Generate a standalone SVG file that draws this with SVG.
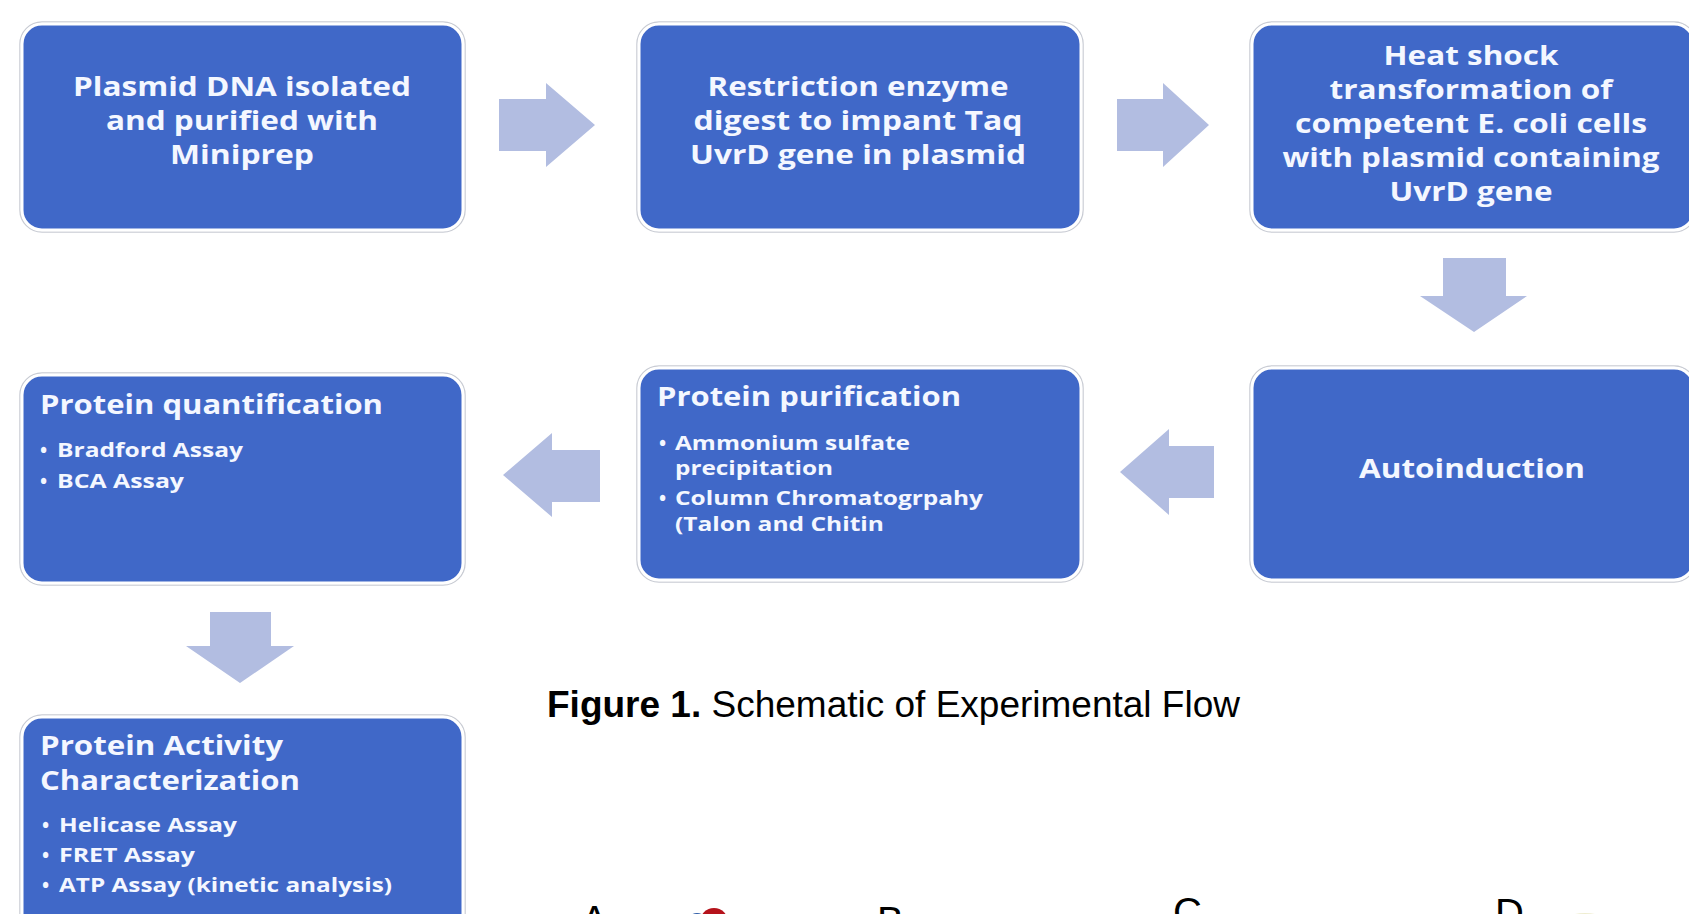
<svg xmlns="http://www.w3.org/2000/svg" width="1689" height="914" viewBox="0 0 1689 914">
<style>
.box{fill:#4068c8;stroke:#ffffff;stroke-width:3}
.halo{fill:none;stroke:#c9ccd4;stroke-width:1.5}
.arr{fill:#b2bde1}
.t{font-family:"Open Sans","Noto Sans","DejaVu Sans",sans-serif;font-weight:bold;fill:#f4f7ff}
.c{text-anchor:middle;font-size:27px}
.h{font-size:26px}
.b{font-size:19px}
.cap{font-family:"Liberation Sans",Arial,sans-serif;font-size:37px;fill:#000}
.lab{font-family:"Liberation Sans",Arial,sans-serif;font-size:40px;fill:#000}
</style>
<rect width="1689" height="914" fill="#ffffff"/>

<g id="connectors">
  <path class="arr" d="M499,99 H546 V83 L595,125 L546,167 V151 H499 Z"/>
  <path class="arr" d="M1117,99 H1163 V83 L1209,125 L1163,167 V151 H1117 Z"/>
  <path class="arr" d="M1443,258 H1506 V296 H1527 L1474,332 L1420,296 H1443 Z"/>
  <path class="arr" d="M600,450 H552 V433 L503,475 L552,517 V502 H600 Z"/>
  <path class="arr" d="M1214,446 H1169 V429 L1120,472 L1169,515 V498 H1214 Z"/>
  <path class="arr" d="M210,612 H271 V646 H294 L240,683 L186,646 H210 Z"/>
</g>

<g id="node1">
  <rect class="halo" x="20" y="22" width="445" height="210" rx="22"/>
  <rect class="box" x="22" y="24" width="441" height="206" rx="20"/>
  <text class="t c" x="242" y="96" textLength="338" lengthAdjust="spacingAndGlyphs">Plasmid DNA isolated</text>
  <text class="t c" x="242" y="130" textLength="272" lengthAdjust="spacingAndGlyphs">and purified with</text>
  <text class="t c" x="242" y="164" textLength="144" lengthAdjust="spacingAndGlyphs">Miniprep</text>
</g>

<g id="node2">
  <rect class="halo" x="637" y="22" width="446" height="210" rx="22"/>
  <rect class="box" x="639" y="24" width="442" height="206" rx="20"/>
  <text class="t c" x="858" y="96" textLength="301" lengthAdjust="spacingAndGlyphs">Restriction enzyme</text>
  <text class="t c" x="858" y="130" textLength="329" lengthAdjust="spacingAndGlyphs">digest to impant Taq</text>
  <text class="t c" x="858" y="164" textLength="336" lengthAdjust="spacingAndGlyphs">UvrD gene in plasmid</text>
</g>

<g id="node3">
  <rect class="halo" x="1250" y="22" width="446" height="210" rx="22"/>
  <rect class="box" x="1252" y="24" width="442" height="206" rx="20"/>
  <text class="t c" x="1471" y="65" textLength="175" lengthAdjust="spacingAndGlyphs">Heat shock</text>
  <text class="t c" x="1471" y="99" textLength="283" lengthAdjust="spacingAndGlyphs">transformation of</text>
  <text class="t c" x="1471" y="133" textLength="352" lengthAdjust="spacingAndGlyphs">competent E. coli cells</text>
  <text class="t c" x="1471" y="167" textLength="377" lengthAdjust="spacingAndGlyphs">with plasmid containing</text>
  <text class="t c" x="1471" y="201" textLength="163" lengthAdjust="spacingAndGlyphs">UvrD gene</text>
</g>

<g id="node6">
  <rect class="halo" x="1250" y="366" width="446" height="216" rx="22"/>
  <rect class="box" x="1252" y="368" width="442" height="212" rx="20"/>
  <text class="t c" x="1472" y="478" textLength="226" lengthAdjust="spacingAndGlyphs">Autoinduction</text>
</g>

<g id="node5">
  <rect class="halo" x="637" y="366" width="446" height="216" rx="22"/>
  <rect class="box" x="639" y="368" width="442" height="212" rx="20"/>
  <text class="t h" x="657" y="406" textLength="304" lengthAdjust="spacingAndGlyphs">Protein purification</text>
  <text class="t b" x="659" y="450">•</text>
  <text class="t b" x="675" y="450" textLength="235" lengthAdjust="spacingAndGlyphs">Ammonium sulfate</text>
  <text class="t b" x="675" y="475" textLength="158" lengthAdjust="spacingAndGlyphs">precipitation</text>
  <text class="t b" x="659" y="505">•</text>
  <text class="t b" x="675" y="505" textLength="308" lengthAdjust="spacingAndGlyphs">Column Chromatogrpahy</text>
  <text class="t b" x="675" y="531" textLength="209" lengthAdjust="spacingAndGlyphs">(Talon and Chitin</text>
</g>

<g id="node4">
  <rect class="halo" x="20" y="373" width="445" height="212" rx="22"/>
  <rect class="box" x="22" y="375" width="441" height="208" rx="20"/>
  <text class="t h" x="40" y="414" textLength="343" lengthAdjust="spacingAndGlyphs">Protein quantification</text>
  <text class="t b" x="40" y="457">•</text>
  <text class="t b" x="57" y="457" textLength="186" lengthAdjust="spacingAndGlyphs">Bradford Assay</text>
  <text class="t b" x="40" y="488">•</text>
  <text class="t b" x="57" y="488" textLength="127" lengthAdjust="spacingAndGlyphs">BCA Assay</text>
</g>

<g id="node7">
  <rect class="halo" x="20" y="715" width="445" height="240" rx="22"/>
  <rect class="box" x="22" y="717" width="441" height="236" rx="20"/>
  <text class="t h" x="40" y="755" textLength="243" lengthAdjust="spacingAndGlyphs">Protein Activity</text>
  <text class="t h" x="40" y="790" textLength="260" lengthAdjust="spacingAndGlyphs">Characterization</text>
  <text class="t b" x="42" y="832">•</text>
  <text class="t b" x="59" y="832" textLength="178" lengthAdjust="spacingAndGlyphs">Helicase Assay</text>
  <text class="t b" x="42" y="862">•</text>
  <text class="t b" x="59" y="862" textLength="136" lengthAdjust="spacingAndGlyphs">FRET Assay</text>
  <text class="t b" x="42" y="892">•</text>
  <text class="t b" x="59" y="892" textLength="333" lengthAdjust="spacingAndGlyphs">ATP Assay (kinetic analysis)</text>
</g>

<g id="caption">
  <text class="cap" x="547" y="717"><tspan font-weight="bold">Figure 1.</tspan> Schematic of Experimental Flow</text>
</g>

<g id="panels">
  <text class="lab" x="581" y="934">A</text>
  <circle cx="697" cy="923" r="10" fill="#2f5ea8"/>
  <circle cx="714" cy="922" r="14" fill="#b5121b"/>
  <text class="lab" x="877" y="935">B</text>
  <text class="lab" x="1173" y="926">C</text>
  <text class="lab" x="1495" y="927">D</text>
  <ellipse cx="1585" cy="916" rx="14" ry="3" fill="#efedd0"/>
</g>
</svg>
